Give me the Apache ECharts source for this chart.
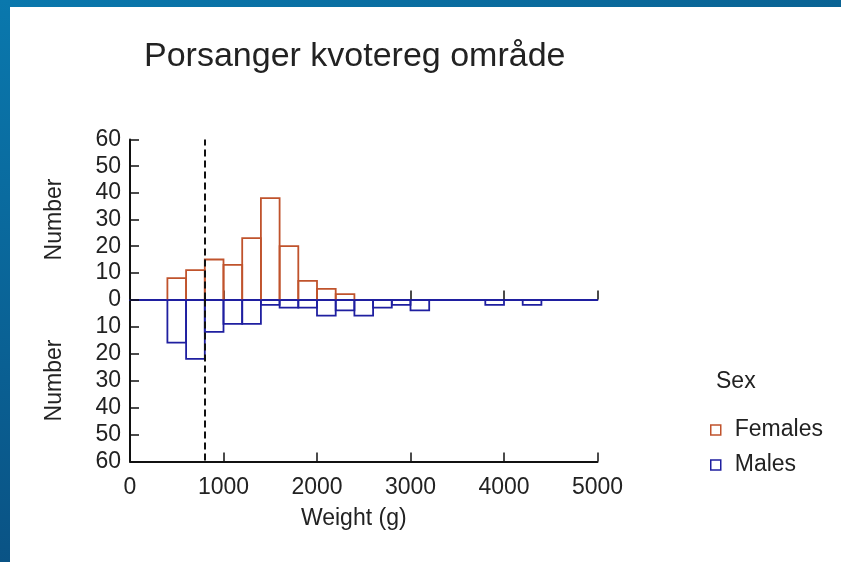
<!DOCTYPE html>
<html>
<head>
<meta charset="utf-8">
<script src="https://cdn.jsdelivr.net/npm/echarts@6/dist/echarts.min.js"></script>
<style>
  html, body { margin: 0; padding: 0; background: #ffffff; }
  #chart { width: 841px; height: 562px; }
</style>
</head>
<body>
<div id="chart"></div>
<script>
// ---- data ----
const binWidth = 200; // g
const femaleBinStarts = [400, 600, 800, 1000, 1200, 1400, 1600, 1800, 2000, 2200];
const femaleCounts    = [8,   11,  15,  13,   23,   38,   20,   7,    4,    2];
const maleBinStarts   = [400, 600, 800, 1000, 1200, 1400, 1600, 1800, 2000, 2200, 2400, 2600, 2800, 3000, 3800, 4200];
const maleCounts      = [16,  22,  12,  9,    9,    2,    3,    3,    6,    4,    6,    3,    2,    4,    2,    2];
const referenceWeight = 800;
const yTicks = [0, 10, 20, 30, 40, 50, 60];
const xTicks = [0, 1000, 2000, 3000, 4000, 5000];

const femaleColor = '#c0532c';
const maleColor = '#1f1fa0';
const textColor = '#222222';
const fontFam = '"Liberation Sans", Arial, sans-serif';

function binData(starts, counts) {
  return starts.map((s, i) => [s, s + binWidth, counts[i]]);
}

function makeRender(color) {
  return function (params, api) {
    const x0 = api.value(0), x1 = api.value(1), v = api.value(2);
    const pts = [
      api.coord([x0, 0]), api.coord([x0, v]),
      api.coord([x1, v]), api.coord([x1, 0])
    ];
    return {
      type: 'polyline',
      shape: { points: pts },
      style: { fill: null, stroke: color, lineWidth: 1.8 }
    };
  };
}

const chart = echarts.init(document.getElementById('chart'), null, { renderer: 'canvas' });

const yAxisCommon = {
  type: 'value', min: yTicks[0], max: yTicks[yTicks.length - 1], interval: 10,
  name: 'Number', nameLocation: 'middle', nameGap: 64, nameRotate: 90,
  nameTextStyle: { fontSize: 23, color: textColor, fontFamily: fontFam },
  axisLine: { show: true, lineStyle: { color: '#111', width: 2 } },
  axisTick: { show: true, inside: true, length: 9, lineStyle: { color: '#111', width: 1.5 } },
  axisLabel: { fontSize: 23, color: textColor, fontFamily: fontFam, margin: 9 },
  splitLine: { show: false }
};

const option = {
  backgroundColor: '#ffffff',
  animation: false,
  title: [
    { text: 'Porsanger kvotereg område', left: 144, top: 40, padding: 0,
      textStyle: { fontSize: 34, fontWeight: 'normal', color: textColor, fontFamily: fontFam } },
    { text: 'Sex', left: 716, top: 370, padding: 0,
      textStyle: { fontSize: 23, fontWeight: 'normal', color: textColor, fontFamily: fontFam } }
  ],
  legend: {
    orient: 'vertical', left: 705, top: 413,
    itemWidth: 10, itemHeight: 10, itemGap: 11,
    textStyle: { fontSize: 23, color: textColor, fontFamily: fontFam, padding: [0, 0, 0, 9], lineHeight: 24 },
    data: [
      { name: 'Females', icon: 'rect', itemStyle: { color: '#ffffff', borderColor: femaleColor, borderWidth: 1.5 } },
      { name: 'Males', icon: 'rect', itemStyle: { color: '#ffffff', borderColor: maleColor, borderWidth: 1.5 } }
    ]
  },
  graphic: [
    { type: 'rect', left: 0, top: 0, z: 100, shape: { width: 841, height: 7 },
      style: { fill: new echarts.graphic.LinearGradient(0, 0, 1, 0, [
        { offset: 0, color: '#0a78ad' }, { offset: 1, color: '#0a6394' }]) } },
    { type: 'rect', left: 0, top: 0, z: 100, shape: { width: 10, height: 562 },
      style: { fill: new echarts.graphic.LinearGradient(0, 0, 0, 1, [
        { offset: 0, color: '#0a78ad' }, { offset: 1, color: '#0a5385' }]) } }
  ],
  grid: [
    { left: 130, top: 139.5, width: 467.5, height: 160 },
    { left: 130, top: 299.5, width: 467.5, height: 162 }
  ],
  xAxis: [
    { gridIndex: 0, type: 'value', min: xTicks[0], max: xTicks[xTicks.length - 1], interval: 1000,
      axisLine: { show: true, onZero: false, lineStyle: { color: maleColor, width: 1.8 } },
      axisTick: { show: true, inside: true, length: 9, lineStyle: { color: '#111', width: 1.5 } },
      axisLabel: { show: false }, splitLine: { show: false } },
    { gridIndex: 1, type: 'value', min: xTicks[0], max: xTicks[xTicks.length - 1], interval: 1000,
      name: 'Weight (g)', nameLocation: 'middle', nameGap: 46,
      nameTextStyle: { fontSize: 23, color: textColor, fontFamily: fontFam, padding: [0, 20, 0, 0] },
      axisLine: { show: true, onZero: false, lineStyle: { color: '#111', width: 2 } },
      axisTick: { show: true, inside: true, length: 9, lineStyle: { color: '#111', width: 1.5 } },
      axisLabel: { fontSize: 23, color: textColor, fontFamily: fontFam, margin: 15,
        formatter: function (v) { return String(v); } },
      splitLine: { show: false } }
  ],
  yAxis: [
    Object.assign({}, yAxisCommon, { gridIndex: 0 }),
    Object.assign({}, yAxisCommon, { gridIndex: 1, inverse: true,
      axisLabel: Object.assign({}, yAxisCommon.axisLabel, { showMinLabel: false }) })
  ],
  series: [
    { name: 'Females', type: 'custom', xAxisIndex: 0, yAxisIndex: 0, z: 3,
      data: binData(femaleBinStarts, femaleCounts), renderItem: makeRender(femaleColor),
      itemStyle: { color: femaleColor },
      markLine: { silent: true, symbol: 'none', label: { show: false },
        lineStyle: { color: '#111', type: [7, 4], width: 2 },
        data: [{ xAxis: referenceWeight }] } },
    { name: 'Males', type: 'custom', xAxisIndex: 1, yAxisIndex: 1, z: 3,
      data: binData(maleBinStarts, maleCounts), renderItem: makeRender(maleColor),
      itemStyle: { color: maleColor },
      markLine: { silent: true, symbol: 'none', label: { show: false },
        lineStyle: { color: '#111', type: [7, 4], width: 2 },
        data: [{ xAxis: referenceWeight }] } }
  ]
};
chart.setOption(option);
</script>
</body>
</html>
